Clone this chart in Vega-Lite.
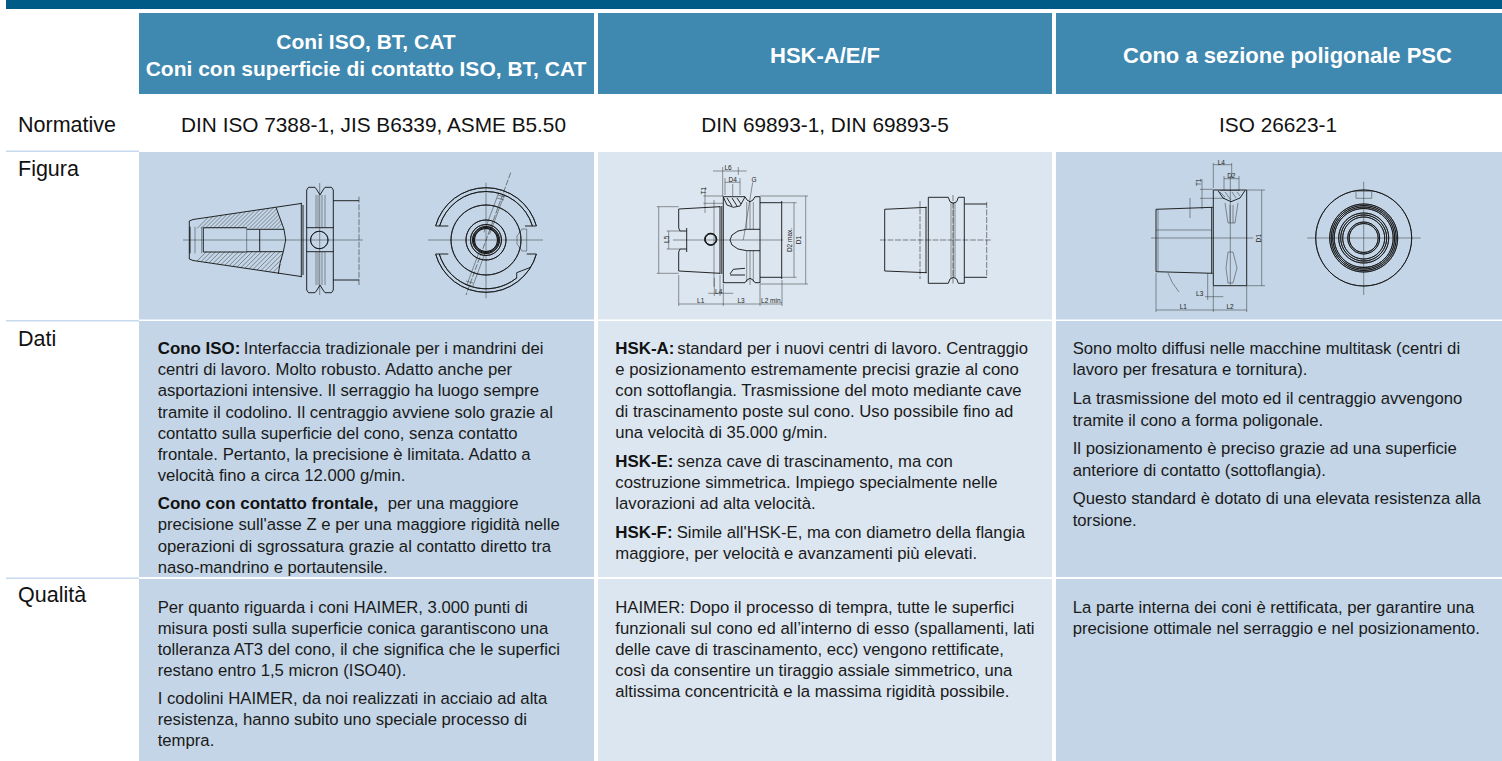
{"$schema":"https://vega.github.io/schema/vega-lite/v6.json","width":1502,"height":761,"padding":0,"autosize":{"type":"none"},"background":"white","config":{"view":{"stroke":null}},
"datasets":{
"cells":[{"x":6,"x2":1502,"y":0,"y2":9,"tone":"bar"},{"x":139,"x2":594,"y":13,"y2":94,"tone":"head"},{"x":598,"x2":1052,"y":13,"y2":94,"tone":"head"},{"x":1056,"x2":1502,"y":13,"y2":94,"tone":"head"},
{"x":139,"x2":594,"y":152,"y2":319.5,"tone":"blue"},{"x":598,"x2":1052,"y":152,"y2":319.5,"tone":"pale"},{"x":1056,"x2":1502,"y":152,"y2":319.5,"tone":"blue"},
{"x":139,"x2":594,"y":321,"y2":577,"tone":"blue"},{"x":598,"x2":1052,"y":321,"y2":577,"tone":"pale"},{"x":1056,"x2":1502,"y":321,"y2":577,"tone":"blue"},
{"x":139,"x2":594,"y":579,"y2":761,"tone":"blue"},{"x":598,"x2":1052,"y":579,"y2":761,"tone":"pale"},{"x":1056,"x2":1502,"y":579,"y2":761,"tone":"blue"},
{"x":6,"x2":139,"y":150.5,"y2":152,"tone":"rule"},{"x":6,"x2":139,"y":320,"y2":321.5,"tone":"rule"},{"x":6,"x2":139,"y":577.5,"y2":579,"tone":"rule"}],
"thin":[
{"x":183,"y":240,"x2":363,"y2":240},{"x":319.7,"y":183,"x2":319.7,"y2":295},{"x":316,"y":195,"x2":316,"y2":228},{"x":318,"y":195,"x2":318,"y2":228},{"x":322,"y":195,"x2":322,"y2":228},{"x":325,"y":195,"x2":325,"y2":228},{"x":316,"y":252,"x2":316,"y2":285},{"x":318,"y":252,"x2":318,"y2":285},{"x":322,"y":252,"x2":322,"y2":285},{"x":325,"y":252,"x2":325,"y2":285},
{"x":195,"y":226.7,"x2":195,"y2":253.3},{"x":201.7,"y":226.7,"x2":201.7,"y2":253.3},{"x":246.7,"y":228,"x2":246.7,"y2":252},
{"x":197,"y":228.5,"x2":208.3,"y2":217.2},{"x":201,"y":228.5,"x2":213,"y2":216.5},{"x":205,"y":228.5,"x2":217.6,"y2":215.9},{"x":209,"y":228.5,"x2":222.3,"y2":215.2},{"x":213,"y":228.5,"x2":227,"y2":214.5},{"x":217,"y":228.5,"x2":231.7,"y2":213.8},{"x":221,"y":228.5,"x2":236.4,"y2":213.1},{"x":225,"y":228.5,"x2":241.1,"y2":212.4},{"x":229,"y":228.5,"x2":245.8,"y2":211.7},{"x":233,"y":228.5,"x2":250.5,"y2":211},{"x":237,"y":228.5,"x2":255.2,"y2":210.3},{"x":241,"y":228.5,"x2":259.9,"y2":209.6},{"x":245,"y":228.5,"x2":264.6,"y2":208.9},{"x":249,"y":228.5,"x2":269.3,"y2":208.2},{"x":253,"y":228.5,"x2":274,"y2":207.5},{"x":257,"y":228.5,"x2":276.6,"y2":208.9},{"x":261,"y":228.5,"x2":277.7,"y2":211.8},{"x":265,"y":228.5,"x2":278.7,"y2":214.8},{"x":269,"y":228.5,"x2":279.8,"y2":217.7},{"x":273,"y":228.5,"x2":280.9,"y2":220.6},{"x":277,"y":228.5,"x2":282,"y2":223.5},
{"x":197,"y":261.1,"x2":206.6,"y2":251.5},{"x":201,"y":261.7,"x2":211.2,"y2":251.5},{"x":205,"y":262.3,"x2":215.8,"y2":251.5},{"x":209,"y":262.9,"x2":220.4,"y2":251.5},{"x":213,"y":263.5,"x2":225,"y2":251.5},{"x":217,"y":264.1,"x2":229.6,"y2":251.5},{"x":221,"y":264.6,"x2":234.1,"y2":251.5},{"x":225,"y":265.2,"x2":238.7,"y2":251.5},{"x":229,"y":265.8,"x2":243.3,"y2":251.5},{"x":233,"y":266.4,"x2":247.9,"y2":251.5},{"x":237,"y":267,"x2":252.5,"y2":251.5},{"x":241,"y":267.6,"x2":257.1,"y2":251.5},{"x":245,"y":268.2,"x2":261.7,"y2":251.5},{"x":249,"y":268.8,"x2":266.3,"y2":251.5},{"x":253,"y":269.4,"x2":270.9,"y2":251.5},{"x":257,"y":270,"x2":275.5,"y2":251.5},{"x":261,"y":270.5,"x2":280,"y2":251.5},{"x":265,"y":271.2,"x2":283,"y2":253.2},{"x":269,"y":271.8,"x2":282,"y2":258.8},{"x":273,"y":272.4,"x2":281,"y2":264.4},
{"x":428,"y":240,"x2":543,"y2":240},{"x":486,"y":182.7,"x2":486,"y2":298.3},{"x":504.5,"y":194.4,"x2":489.5,"y2":234.4},{"x":498.9,"y":192.3,"x2":483.9,"y2":232.3},{"x":485.8,"y":251,"x2":472.8,"y2":286},{"x":480.2,"y":249,"x2":467.2,"y2":284},{"x":498,"y":195,"x2":505,"y2":197},{"x":497,"y":198,"x2":504,"y2":200},{"x":466,"y":281,"x2":473,"y2":283},{"x":465,"y":284,"x2":472,"y2":286},
{"x":526.7,"y":229,"x2":526.7,"y2":251},{"x":522,"y":229,"x2":526.7,"y2":229},{"x":522,"y":251,"x2":526.7,"y2":251},{"x":522,"y":229,"x2":517,"y2":236},{"x":517,"y":236,"x2":517,"y2":244},{"x":517,"y":244,"x2":522,"y2":251},
{"x":673,"y":240,"x2":783,"y2":240},{"x":714,"y":200,"x2":714,"y2":286.7},{"x":805.7,"y":196,"x2":805.7,"y2":284},{"x":760,"y":196,"x2":808,"y2":196},{"x":760,"y":284,"x2":808,"y2":284},{"x":794,"y":202.7,"x2":794,"y2":277.3},{"x":781.7,"y":202.7,"x2":796.7,"y2":202.7},{"x":781.7,"y":277.3,"x2":796.7,"y2":277.3},{"x":658.7,"y":206.7,"x2":658.7,"y2":273.3},{"x":656.7,"y":206.7,"x2":678.7,"y2":206.7},{"x":656.7,"y":273.3,"x2":678.7,"y2":273.3},{"x":668.7,"y":231,"x2":668.7,"y2":249},{"x":666.7,"y":231,"x2":680,"y2":231},{"x":666.7,"y":249,"x2":680,"y2":249},{"x":703.3,"y":196,"x2":723.3,"y2":196},{"x":703.3,"y":203.3,"x2":723.3,"y2":203.3},{"x":705,"y":188,"x2":705,"y2":213},{"x":713,"y":171,"x2":746.7,"y2":171},{"x":722.7,"y":167,"x2":722.7,"y2":197},{"x":738.3,"y":167,"x2":738.3,"y2":175},{"x":725,"y":182.3,"x2":740,"y2":182.3},{"x":725,"y":178,"x2":725,"y2":195},{"x":740,"y":178,"x2":740,"y2":195},{"x":732.7,"y":184,"x2":732.7,"y2":196},{"x":752.7,"y":182.3,"x2":743.3,"y2":240},{"x":678.7,"y":304,"x2":782,"y2":304},{"x":678.7,"y":275,"x2":678.7,"y2":306},{"x":723.3,"y":284,"x2":723.3,"y2":306},{"x":760,"y":284,"x2":760,"y2":306},{"x":782,"y":280,"x2":782,"y2":306},{"x":708.3,"y":293.3,"x2":733.3,"y2":293.3},{"x":714.3,"y":278,"x2":714.3,"y2":296},{"x":720,"y":275,"x2":720,"y2":296},
{"x":746.7,"y":202,"x2":746.7,"y2":229.3},{"x":750,"y":201,"x2":750,"y2":229.3},{"x":753.3,"y":202,"x2":753.3,"y2":229.3},{"x":746.7,"y":250.7,"x2":746.7,"y2":282},{"x":750,"y":250.7,"x2":750,"y2":285},{"x":753.3,"y":250.7,"x2":753.3,"y2":282},
{"x":951,"y":202,"x2":951,"y2":278},{"x":953.3,"y":202,"x2":953.3,"y2":278},{"x":955,"y":202,"x2":955,"y2":278},
{"x":1230.3,"y":186,"x2":1230.3,"y2":285},{"x":1151,"y":238,"x2":1253.3,"y2":238},{"x":1156,"y":230,"x2":1211,"y2":230},{"x":1190,"y":198,"x2":1190,"y2":218},{"x":1158,"y":210,"x2":1158,"y2":271},{"x":1261.7,"y":190,"x2":1261.7,"y2":285.7},{"x":1246.7,"y":190,"x2":1265,"y2":190},{"x":1246.7,"y":285.7,"x2":1265,"y2":285.7},{"x":1213.3,"y":164.7,"x2":1231.7,"y2":164.7},{"x":1213.3,"y":163,"x2":1213.3,"y2":188},{"x":1231.7,"y":163,"x2":1231.7,"y2":178},{"x":1224,"y":178.7,"x2":1239,"y2":178.7},{"x":1224,"y":176,"x2":1224,"y2":190},{"x":1239,"y":176,"x2":1239,"y2":190},{"x":1230.3,"y":176,"x2":1230.3,"y2":186},{"x":1202,"y":179.3,"x2":1202,"y2":209.3},{"x":1200,"y":189.3,"x2":1213.3,"y2":189.3},{"x":1200,"y":198.3,"x2":1225,"y2":198.3},{"x":1205,"y":296.7,"x2":1223.3,"y2":296.7},{"x":1207.7,"y":273.3,"x2":1207.7,"y2":300},{"x":1213.3,"y":286,"x2":1213.3,"y2":312},{"x":1156,"y":310,"x2":1246.7,"y2":310},{"x":1156,"y":273,"x2":1156,"y2":312},{"x":1246.7,"y":286,"x2":1246.7,"y2":312},{"x":1168,"y":273,"x2":1172,"y2":282},{"x":1172,"y":282,"x2":1179,"y2":292},
{"x":1220,"y":190.5,"x2":1240,"y2":190.5},{"x":1220,"y":192,"x2":1225,"y2":197},{"x":1225,"y":192,"x2":1231,"y2":200},{"x":1232,"y":192,"x2":1236,"y2":198},{"x":1237,"y":192,"x2":1240,"y2":196},
{"x":1225,"y":203,"x2":1228,"y2":223},{"x":1228,"y":223,"x2":1235,"y2":223},{"x":1235,"y":223,"x2":1238,"y2":203},{"x":1230,"y":205,"x2":1230,"y2":223},{"x":1233,"y":205,"x2":1233,"y2":223},{"x":1226,"y":268,"x2":1228,"y2":252},{"x":1228,"y":252,"x2":1233,"y2":252},{"x":1233,"y":252,"x2":1237,"y2":268},{"x":1226,"y":268,"x2":1228,"y2":283},{"x":1237,"y":268,"x2":1233,"y2":283},{"x":1228,"y":283,"x2":1233,"y2":283},
{"x":1307.3,"y":238,"x2":1420.7,"y2":238},{"x":1363.7,"y":181.7,"x2":1363.7,"y2":295},{"x":1356,"y":191.3,"x2":1371.7,"y2":191.3},{"x":1356,"y":198.3,"x2":1371.7,"y2":198.3},{"x":1356,"y":191.3,"x2":1356,"y2":198.3},{"x":1371.7,"y":191.3,"x2":1371.7,"y2":198.3},{"x":1358,"y":208,"x2":1370,"y2":208},{"x":1358,"y":215,"x2":1370,"y2":215},{"x":1358,"y":261,"x2":1370,"y2":261},{"x":1358,"y":267,"x2":1370,"y2":267}
],
"dashed":[
{"x":510.7,"y":172.7,"x2":466,"y2":295},{"x":359,"y":196.7,"x2":359,"y2":285},{"x":920,"y":201,"x2":920,"y2":279},{"x":880,"y":240,"x2":990.7,"y2":240},{"x":986.7,"y":202,"x2":986.7,"y2":278},{"x":953,"y":195,"x2":953,"y2":285}
],
"thick":[
{"x":189.3,"y":221,"x2":193,"y2":219.5},{"x":193,"y":219.5,"x2":301,"y2":203.5},{"x":189.3,"y":259,"x2":193,"y2":260.5},{"x":193,"y":260.5,"x2":301,"y2":276.5},{"x":189.3,"y":221,"x2":189.3,"y2":259},{"x":301.3,"y":202.7,"x2":301.3,"y2":277.3},{"x":303,"y":205,"x2":303,"y2":275},{"x":306.7,"y":190,"x2":306.7,"y2":290},{"x":306.7,"y":190,"x2":308.5,"y2":187.3},{"x":308.5,"y":187.3,"x2":315,"y2":187.3},{"x":315,"y":187.3,"x2":317,"y2":190},{"x":317,"y":190,"x2":320,"y2":195},{"x":320,"y":195,"x2":323,"y2":190},{"x":323,"y":190,"x2":325,"y2":187.3},{"x":325,"y":187.3,"x2":331.5,"y2":187.3},{"x":331.5,"y":187.3,"x2":333.3,"y2":190},{"x":333.3,"y":190,"x2":333.3,"y2":290},{"x":306.7,"y":290,"x2":308.5,"y2":292.7},{"x":308.5,"y":292.7,"x2":315,"y2":292.7},{"x":315,"y":292.7,"x2":317,"y2":290},{"x":317,"y":290,"x2":320,"y2":285},{"x":320,"y":285,"x2":323,"y2":290},{"x":323,"y":290,"x2":325,"y2":292.7},{"x":325,"y":292.7,"x2":331.5,"y2":292.7},{"x":331.5,"y":292.7,"x2":333.3,"y2":290},{"x":333.3,"y":200.7,"x2":359,"y2":200.7},{"x":333.3,"y":280,"x2":359,"y2":280},{"x":306.7,"y":227.7,"x2":333.3,"y2":227.7},{"x":306.7,"y":251.7,"x2":333.3,"y2":251.7},
{"x":190,"y":226.7,"x2":190,"y2":253.3},{"x":203.3,"y":227.7,"x2":203.3,"y2":252},{"x":203.3,"y":227.7,"x2":246.7,"y2":227.7},{"x":203.3,"y":252,"x2":246.7,"y2":252},{"x":259.7,"y":229.3,"x2":259.7,"y2":251.7},{"x":259.7,"y":229.3,"x2":284,"y2":229.3},{"x":259.7,"y":251.7,"x2":283.3,"y2":251.7},{"x":246.7,"y":229.3,"x2":259.7,"y2":229.3},{"x":246.7,"y":251.7,"x2":259.7,"y2":251.7},
{"x":276,"y":207.3,"x2":280,"y2":218.3},{"x":280,"y":218.3,"x2":284,"y2":229.3},{"x":284,"y":229.3,"x2":285.7,"y2":240},{"x":285.7,"y":240,"x2":283.3,"y2":251.7},{"x":283.3,"y":251.7,"x2":280,"y2":263.3},{"x":280,"y":263.3,"x2":278.3,"y2":274},
{"x":435.6,"y":226,"x2":448.3,"y2":226},{"x":435.6,"y":254,"x2":448.3,"y2":254},{"x":525,"y":226,"x2":536.4,"y2":226},{"x":526.7,"y":254,"x2":536.4,"y2":254},{"x":530.7,"y":267.3,"x2":516.7,"y2":272.7},{"x":516.7,"y":272.7,"x2":516.7,"y2":278.3},
{"x":678.7,"y":209,"x2":720,"y2":206.7},{"x":678.7,"y":271,"x2":720,"y2":273.3},{"x":678.7,"y":209,"x2":678.7,"y2":228},{"x":678.7,"y":252,"x2":678.7,"y2":271},{"x":678.7,"y":228,"x2":680,"y2":231},{"x":680,"y":231,"x2":686.7,"y2":231},{"x":686.7,"y":228,"x2":686.7,"y2":252},{"x":680,"y":249,"x2":686.7,"y2":249},{"x":678.7,"y":252,"x2":680,"y2":249},{"x":720,"y":206,"x2":720,"y2":274},{"x":721.8,"y":206,"x2":721.8,"y2":274},{"x":723.3,"y":197,"x2":723.3,"y2":283},{"x":723.3,"y":196.7,"x2":745,"y2":196.7},{"x":723.3,"y":282.7,"x2":745,"y2":282.7},{"x":745,"y":196.7,"x2":747,"y2":200},{"x":747,"y":200,"x2":750,"y2":201.7},{"x":750,"y":201.7,"x2":753,"y2":200},{"x":753,"y":200,"x2":755,"y2":196.7},{"x":755,"y":196.7,"x2":760,"y2":196.7},{"x":745,"y":282.7,"x2":747,"y2":280},{"x":747,"y":280,"x2":750,"y2":278.3},{"x":750,"y":278.3,"x2":753,"y2":280},{"x":753,"y":280,"x2":755,"y2":282.7},{"x":755,"y":282.7,"x2":760,"y2":282.7},{"x":760,"y":197,"x2":760,"y2":283},{"x":760,"y":202.7,"x2":781.7,"y2":202.7},{"x":760,"y":277.3,"x2":781.7,"y2":277.3},{"x":781.7,"y":201,"x2":781.7,"y2":279},{"x":746.7,"y":229.3,"x2":738,"y2":231},{"x":738,"y":231,"x2":732,"y2":235},{"x":732,"y":235,"x2":730,"y2":240},{"x":730,"y":240,"x2":732,"y2":245},{"x":732,"y":245,"x2":738,"y2":249},{"x":738,"y":249,"x2":746.7,"y2":250.7},{"x":746.7,"y":229.3,"x2":760,"y2":229.3},{"x":746.7,"y":250.7,"x2":760,"y2":250.7},{"x":730,"y":274,"x2":733.3,"y2":269.3},{"x":733.3,"y":269.3,"x2":745,"y2":268.3},{"x":730,"y":275,"x2":745,"y2":275},{"x":723.3,"y":197,"x2":727,"y2":205},{"x":727,"y":205,"x2":733.3,"y2":207.3},{"x":733.3,"y":207.3,"x2":740,"y2":206},{"x":740,"y":206,"x2":745,"y2":197},{"x":727,"y":198,"x2":732,"y2":206},{"x":732,"y":198,"x2":737,"y2":206},{"x":737,"y":198,"x2":741,"y2":204},
{"x":884.7,"y":209.3,"x2":926.7,"y2":207.3},{"x":884.7,"y":271,"x2":926.7,"y2":272.7},{"x":884.7,"y":209.3,"x2":884.7,"y2":271},{"x":926,"y":207,"x2":926,"y2":273},{"x":928.3,"y":197.3,"x2":928.3,"y2":283.3},{"x":928.3,"y":197.3,"x2":948.3,"y2":197.3},{"x":928.3,"y":283.3,"x2":948.3,"y2":283.3},{"x":948.3,"y":197.3,"x2":950,"y2":201.7},{"x":950,"y":201.7,"x2":953.3,"y2":203.3},{"x":953.3,"y":203.3,"x2":956.7,"y2":201.7},{"x":956.7,"y":201.7,"x2":958.3,"y2":197.3},{"x":958.3,"y":197.3,"x2":964.3,"y2":197.3},{"x":948.3,"y":283.3,"x2":950,"y2":279},{"x":950,"y":279,"x2":953.3,"y2":277.3},{"x":953.3,"y":277.3,"x2":956.7,"y2":279},{"x":956.7,"y":279,"x2":958.3,"y2":283.3},{"x":958.3,"y":283.3,"x2":964.3,"y2":283.3},{"x":964.3,"y":197.3,"x2":964.3,"y2":283.3},{"x":964.3,"y":204,"x2":986.7,"y2":204},{"x":964.3,"y":277.3,"x2":986.7,"y2":277.3},
{"x":1213.3,"y":190,"x2":1246.7,"y2":190},{"x":1213.3,"y":285.7,"x2":1246.7,"y2":285.7},{"x":1213.3,"y":190,"x2":1213.3,"y2":285.7},{"x":1246.7,"y":190,"x2":1246.7,"y2":285.7},{"x":1156,"y":209.3,"x2":1212.7,"y2":207.3},{"x":1156,"y":271.7,"x2":1212.7,"y2":273.3},{"x":1156,"y":209.3,"x2":1156,"y2":271.7},{"x":1211.7,"y":207,"x2":1211.7,"y2":273.3},{"x":1218,"y":190.5,"x2":1223,"y2":198},{"x":1223,"y":198,"x2":1231,"y2":201.7},{"x":1231,"y":201.7,"x2":1240,"y2":198},{"x":1240,"y":198,"x2":1245,"y2":190.5}
],
"arcs":[
{"x":319.3,"y":240,"r":8.7,"a":0,"b":6.283},{"x":486,"y":240,"r":52.3,"a":-1.298,"b":1.298},{"x":486,"y":240,"r":48.5,"a":-1.28,"b":1.28},{"x":486,"y":240,"r":52.3,"a":1.844,"b":4.439},{"x":486,"y":240,"r":48.8,"a":2.466,"b":4.42},{"x":486,"y":240,"r":35,"a":0,"b":6.283},{"x":486,"y":240,"r":20,"a":0,"b":6.283},{"x":486,"y":240,"r":15.5,"a":0,"b":6.283},{"x":486,"y":240,"r":13.5,"a":0,"b":6.283},{"x":486,"y":240,"r":11.5,"a":0,"b":6.283},{"x":486,"y":240,"r":12.5,"a":0,"b":6.283},
{"x":710.7,"y":239.3,"r":6,"a":0,"b":6.283},{"x":710.7,"y":239.3,"r":5.4,"a":0,"b":6.283},
{"x":1363.7,"y":238,"r":48,"a":0,"b":6.283},{"x":1363.7,"y":238,"r":34,"a":0,"b":6.283},{"x":1363.7,"y":238,"r":32.5,"a":0,"b":6.283},{"x":1363.7,"y":238,"r":31,"a":0,"b":6.283},{"x":1363.7,"y":238,"r":29.5,"a":0,"b":6.283},{"x":1363.7,"y":238,"r":25,"a":0,"b":6.283},{"x":1363.7,"y":238,"r":23,"a":0,"b":6.283},{"x":1363.7,"y":238,"r":21,"a":0,"b":6.283},{"x":1363.7,"y":238,"r":16,"a":0,"b":6.283},{"x":1363.7,"y":238,"r":14.5,"a":0,"b":6.283}
],
"tinyText":[{"x":728,"y":168,"t":"L6"},{"x":732.7,"y":179.5,"t":"D4"},{"x":754,"y":180,"t":"G"},{"x":700.7,"y":301,"t":"L1"},{"x":741,"y":301,"t":"L3"},{"x":771.7,"y":301,"t":"L2 min."},{"x":718.7,"y":291.5,"t":"L4"},{"x":1221.3,"y":162.5,"t":"L4"},{"x":1231.3,"y":176,"t":"D2"},{"x":1199.7,"y":294,"t":"L3"},{"x":1183.3,"y":307,"t":"L1"},{"x":1230,"y":307,"t":"L2"}],
"tinyRot":[{"x":799,"y":240,"t":"D1"},{"x":790,"y":240,"t":"D2 max."},{"x":666.5,"y":239.3,"t":"L5"},{"x":704,"y":190.7,"t":"T1"},{"x":1258.5,"y":238.3,"t":"D1"},{"x":1198.5,"y":182.3,"t":"T1"}],
"labels":[{"x":18,"y":131.7,"t":"Normative"},{"x":18,"y":176,"t":"Figura"},{"x":18,"y":345.7,"t":"Dati"},{"x":18,"y":601.7,"t":"Qualità"}],
"norm":[{"x":373.5,"y":131.7,"t":"DIN ISO 7388-1, JIS B6339, ASME B5.50"},{"x":825,"y":131.7,"t":"DIN 69893-1, DIN 69893-5"},{"x":1278,"y":131.7,"t":"ISO 26623-1"}],
"head":[{"x":366,"y":49.3,"t":"Coni ISO, BT, CAT"},{"x":366,"y":76,"t":"Coni con superficie di contatto ISO, BT, CAT"}],
"headWide":[{"x":825,"y":62.5,"t":"HSK-A/E/F"},{"x":1287.5,"y":62.5,"t":"Cono a sezione poligonale PSC"}],
"bold":[{"x":157.7,"y":354,"t":"Cono ISO:"},{"x":157.7,"y":509,"t":"Cono con contatto frontale,"},{"x":615.3,"y":354,"t":"HSK-A:"},{"x":615.3,"y":467.3,"t":"HSK-E:"},{"x":615.3,"y":538,"t":"HSK-F:"}],
"body":[
{"x":243.8,"y":354,"t":"Interfaccia tradizionale per i mandrini dei"},{"x":157.7,"y":375.2,"t":"centri di lavoro. Molto robusto. Adatto anche per"},{"x":157.7,"y":396.3,"t":"asportazioni intensive. Il serraggio ha luogo sempre"},{"x":157.7,"y":417.5,"t":"tramite il codolino. Il centraggio avviene solo grazie al"},{"x":157.7,"y":438.7,"t":"contatto sulla superficie del cono, senza contatto"},{"x":157.7,"y":460,"t":"frontale. Pertanto, la precisione è limitata. Adatto a"},{"x":157.7,"y":481,"t":"velocità fino a circa 12.000 g/min."},{"x":387.7,"y":509,"t":"per una maggiore"},{"x":157.7,"y":530.3,"t":"precisione sull'asse Z e per una maggiore rigidità nelle"},{"x":157.7,"y":551.5,"t":"operazioni di sgrossatura grazie al contatto diretto tra"},{"x":157.7,"y":572.5,"t":"naso-mandrino e portautensile."},
{"x":157.7,"y":613,"t":"Per quanto riguarda i coni HAIMER, 3.000 punti di"},{"x":157.7,"y":633.5,"t":"misura posti sulla superficie conica garantiscono una"},{"x":157.7,"y":654.5,"t":"tolleranza AT3 del cono, il che significa che le superfici"},{"x":157.7,"y":675.5,"t":"restano entro 1,5 micron (ISO40)."},{"x":157.7,"y":704.3,"t":"I codolini HAIMER, da noi realizzati in acciaio ad alta"},{"x":157.7,"y":725.3,"t":"resistenza, hanno subito uno speciale processo di"},{"x":157.7,"y":746,"t":"tempra."},
{"x":677.3,"y":354,"t":"standard per i nuovi centri di lavoro. Centraggio"},{"x":615.3,"y":375.3,"t":"e posizionamento estremamente precisi grazie al cono"},{"x":615.3,"y":396.3,"t":"con sottoflangia. Trasmissione del moto mediante cave"},{"x":615.3,"y":417.3,"t":"di trascinamento poste sul cono. Uso possibile fino ad"},{"x":615.3,"y":438.3,"t":"una velocità di 35.000 g/min."},{"x":677.3,"y":467.3,"t":"senza cave di trascinamento, ma con"},{"x":615.3,"y":488.3,"t":"costruzione simmetrica. Impiego specialmente nelle"},{"x":615.3,"y":509.3,"t":"lavorazioni ad alta velocità."},{"x":676.7,"y":538,"t":"Simile all'HSK-E, ma con diametro della flangia"},{"x":615.3,"y":559.3,"t":"maggiore, per velocità e avanzamenti più elevati."},
{"x":615.3,"y":612.5,"t":"HAIMER: Dopo il processo di tempra, tutte le superfici"},{"x":615.3,"y":633.5,"t":"funzionali sul cono ed all’interno di esso (spallamenti, lati"},{"x":615.3,"y":654.5,"t":"delle cave di trascinamento, ecc) vengono rettificate,"},{"x":615.3,"y":675.5,"t":"così da consentire un tiraggio assiale simmetrico, una"},{"x":615.3,"y":696.5,"t":"altissima concentricità e la massima rigidità possibile."},
{"x":1072.7,"y":354,"t":"Sono molto diffusi nelle macchine multitask (centri di"},{"x":1072.7,"y":375.3,"t":"lavoro per fresatura e tornitura)."},{"x":1072.7,"y":404.3,"t":"La trasmissione del moto ed il centraggio avvengono"},{"x":1072.7,"y":425.5,"t":"tramite il cono a forma poligonale."},{"x":1072.7,"y":454.3,"t":"Il posizionamento è preciso grazie ad una superficie"},{"x":1072.7,"y":475.5,"t":"anteriore di contatto (sottoflangia)."},{"x":1072.7,"y":504.3,"t":"Questo standard è dotato di una elevata resistenza alla"},{"x":1072.7,"y":525.5,"t":"torsione."},
{"x":1072.7,"y":612.5,"t":"La parte interna dei coni è rettificata, per garantire una"},{"x":1072.7,"y":633.5,"t":"precisione ottimale nel serraggio e nel posizionamento."}
]},
"encoding":{"x":{"field":"x","type":"quantitative","scale":{"domain":[0,1502],"nice":false,"zero":false},"axis":null},"y":{"field":"y","type":"quantitative","scale":{"domain":[0,761],"nice":false,"zero":false,"reverse":true},"axis":null}},
"layer":[
{"data":{"name":"cells"},"mark":{"type":"rect"},"encoding":{"x2":{"field":"x2"},"y2":{"field":"y2"},"color":{"field":"tone","type":"nominal","legend":null,"scale":{"domain":["bar","head","blue","pale","rule"],"range":["#005b86","#3f88b0","#c3d5e6","#dce6f0","#c6d9ee"]}}}},
{"data":{"name":"thin"},"mark":{"type":"rule","stroke":"#333333","strokeWidth":0.5},"encoding":{"x2":{"field":"x2"},"y2":{"field":"y2"}}},
{"data":{"name":"dashed"},"mark":{"type":"rule","stroke":"#333333","strokeWidth":0.6,"strokeDash":[6,1.5]},"encoding":{"x2":{"field":"x2"},"y2":{"field":"y2"}}},
{"data":{"name":"thick"},"mark":{"type":"rule","stroke":"#111111","strokeWidth":0.9},"encoding":{"x2":{"field":"x2"},"y2":{"field":"y2"}}},
{"data":{"name":"arcs"},"mark":{"type":"arc","filled":false,"stroke":"#111111","strokeWidth":0.8},"encoding":{"theta":{"field":"a","type":"quantitative","scale":null,"stack":null},"theta2":{"field":"b"},"radius":{"field":"r","type":"quantitative","scale":null},"radius2":{"field":"r"}}},
{"data":{"name":"tinyText"},"mark":{"type":"text","font":"Liberation Sans","fontSize":6.5,"align":"center","fill":"#222222"},"encoding":{"text":{"field":"t"}}},
{"data":{"name":"tinyRot"},"mark":{"type":"text","font":"Liberation Sans","fontSize":6.5,"align":"center","angle":270,"fill":"#222222"},"encoding":{"text":{"field":"t"}}},
{"data":{"name":"labels"},"mark":{"type":"text","font":"Liberation Sans","fontSize":21.5,"align":"left","baseline":"alphabetic","fill":"#111111"},"encoding":{"text":{"field":"t"}}},
{"data":{"name":"norm"},"mark":{"type":"text","font":"Liberation Sans","fontSize":20.8,"align":"center","baseline":"alphabetic","fill":"#111111"},"encoding":{"text":{"field":"t"}}},
{"data":{"name":"head"},"mark":{"type":"text","font":"Liberation Sans","fontSize":21,"fontWeight":"bold","align":"center","baseline":"alphabetic","fill":"#ffffff"},"encoding":{"text":{"field":"t"}}},
{"data":{"name":"headWide"},"mark":{"type":"text","font":"Liberation Sans","fontSize":22,"fontWeight":"bold","align":"center","baseline":"alphabetic","fill":"#ffffff"},"encoding":{"text":{"field":"t"}}},
{"data":{"name":"bold"},"mark":{"type":"text","font":"Liberation Sans","fontSize":16.9,"fontWeight":"bold","align":"left","baseline":"alphabetic","fill":"#111111"},"encoding":{"text":{"field":"t"}}},
{"data":{"name":"body"},"mark":{"type":"text","font":"Liberation Sans","fontSize":16.7,"align":"left","baseline":"alphabetic","fill":"#1a1a1a"},"encoding":{"text":{"field":"t"}}}
]}
